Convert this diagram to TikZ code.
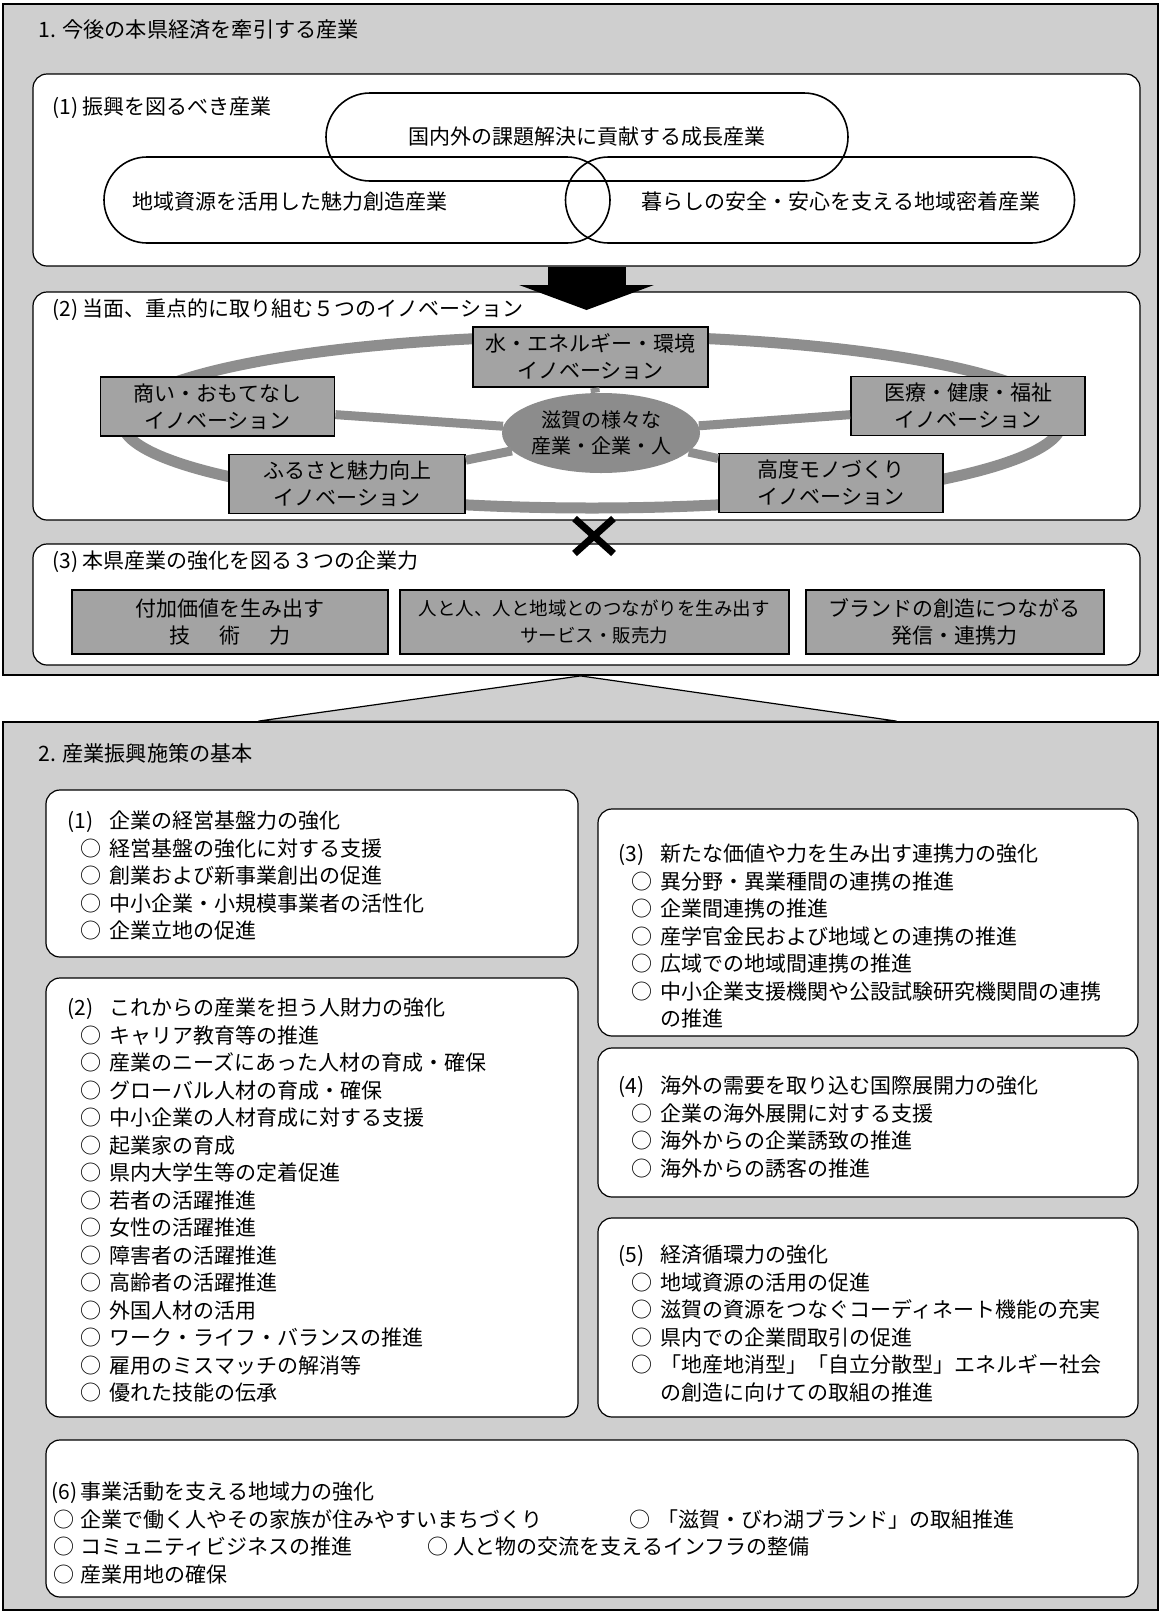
\documentclass[tikz,border=0pt]{standalone}
\usepackage{fontspec}
\setmainfont{Noto Sans CJK JP}
\usetikzlibrary{arrows.meta,positioning,shapes.geometric,shapes.misc}
\definecolor{screen}{HTML}{CFCFCF}
\definecolor{tone}{HTML}{A3A3A3}
\definecolor{ringgray}{HTML}{8E8E8E}
\definecolor{hubgray}{HTML}{8C8C8C}
\newcommand\hd[2][21pt]{\makebox[#1][l]{#2}}
\newcommand\bu[2][6.25pt]{\hspace*{#1}\makebox[#2][l]{○}}

\begin{document}
\begin{tikzpicture}[x=0.5pt,y=-0.5pt,font=\fontsize{10.5pt}{13.75pt}\selectfont,
  frame/.style={draw=black,line width=0.9pt,fill=screen,inner sep=0pt},
  panel/.style={draw=black,line width=0.6pt,fill=white,rounded corners=7pt,inner sep=0pt},
  ttl/.style={anchor=west,inner sep=0pt,font=\fontsize{10.6pt}{13pt}\selectfont},
  hdg/.style={anchor=west,inner sep=0pt},
  lst/.style={anchor=north west,align=left,inner sep=0pt},
  pill/.style={rounded rectangle,draw=black,line width=0.8pt,minimum width=254pt,minimum height=43pt,inner sep=0pt},
  innobox/.style={draw=black,line width=0.9pt,fill=tone,align=center,inner sep=0pt,minimum width=117pt,minimum height=29.5pt,font=\fontsize{10.5pt}{13.5pt}\selectfont},
  powbox/.style={innobox,minimum height=32pt},
  spoke/.style={draw=ringgray,line width=4.5pt},
  bigarr/.style={line width=39pt,-{Triangle[width=67pt,length=12.5pt]}}]

\useasboundingbox (0,0) rectangle (1161,1617);
\fill[white] (0,0) rectangle (1161,1617);

% two screened frames and the wedge between them
\node[frame,minimum width=577.5pt,minimum height=335.5pt] (sec1) at (580.5,339.5) {};
\node[frame,minimum width=577.5pt,minimum height=444pt] (sec2) at (580.5,1166) {};
\draw[fill=screen,line width=0.6pt] (sec1.south) -- ([xshift=-161pt]sec2.north) -- ([xshift=158pt]sec2.north) -- cycle;
\node[ttl] (t1) at (38,30) {1. 今後の本県経済を牽引する産業};
\node[ttl] (t2) at (38,753) {2. 産業振興施策の基本};

% (1) industries
\node[panel,minimum width=553.5pt,minimum height=96pt] (ind) at (586.5,170) {};
\node[hdg] (indhd) at (52,108) {(1) 振興を図るべき産業};
\node[pill,minimum width=261pt,minimum height=44pt] (growth) at (587,137) {国内外の課題解決に貢献する成長産業};
\node[pill,minimum width=253pt] (charm) at (357,200) {};
\node[pill,minimum width=254.5pt] (local) at (820,200) {};
\node[inner sep=0pt] (charmtx) at (290,202) {地域資源を活用した魅力創造産業};
\node[inner sep=0pt] (localtx) at (841,202) {暮らしの安全・安心を支える地域密着産業};

% (2) innovations
\node[panel,minimum width=553.5pt,minimum height=114pt] (inno) at (586.5,406) {};
\node[hdg] (innohd) at (52,310) {(2) 当面、重点的に取り組む５つのイノベーション};
\coordinate (arrtip) at (586.5,310);
\draw[bigarr] (ind.south) -- (arrtip);
\draw[ringgray,line width=5.5pt] (592,422) ellipse [x radius=235pt,y radius=43pt];
\node[ellipse,fill=hubgray,inner sep=0pt,minimum width=98pt,minimum height=40pt,align=center,font=\fontsize{10pt}{13pt}\selectfont] (hub) at (601,433) {滋賀の様々な\\産業・企業・人};
\node[innobox,minimum width=117.5pt,minimum height=30pt] (mizu) at (590.5,357) {水・エネルギー・環境\\イノベーション};
\node[innobox] (akinai) at (217.5,406.5) {商い・おもてなし\\イノベーション};
\node[innobox] (iryo) at (968,406) {医療・健康・福祉\\イノベーション};
\node[innobox,minimum width=118pt] (furusato) at (347,484) {ふるさと魅力向上\\イノベーション};
\node[innobox,minimum width=112pt] (kodo) at (831,483) {高度モノづくり\\イノベーション};
\foreach \b in {mizu,akinai,iryo,furusato,kodo}
  \draw[spoke] (hub) -- (\b);

% (3) three strengths
\node[panel,minimum width=553.5pt,minimum height=60.5pt] (kigyo) at (586.5,604.5) {};
\node[cross out,draw=black,line width=3.5pt,minimum width=16pt,minimum height=14pt,inner sep=0pt] (xmark) at (594,536) {};
\node[hdg] (kigyohd) at (52,562) {(3) 本県産業の強化を図る３つの企業力};
\node[powbox,minimum width=158pt] (gijutsu) at (230,622) {付加価値を生み出す\\技\hspace*{1.4em}術\hspace*{1.4em}力};
\node[powbox,minimum width=194.5pt,right=5pt of gijutsu,font=\fontsize{9.25pt}{13.5pt}\selectfont] (hanbai) {人と人、人と地域とのつながりを生み出す\\サービス・販売力};
\node[powbox,minimum width=149pt,right=7.5pt of hanbai] (hasshin) {ブランドの創造につながる\\発信・連携力};

% policy boxes
\node[panel,minimum width=266pt,minimum height=83.5pt] (kiban) at (312,873.5) {};
\node[panel,minimum width=266pt,minimum height=219.5pt] (jinzai) at (312,1197.5) {};
\node[panel,minimum width=270pt,minimum height=113.5pt] (renkei) at (868,922.5) {};
\node[panel,minimum width=270pt,minimum height=74.5pt] (kaigai) at (868,1122.5) {};
\node[panel,minimum width=270pt,minimum height=99.5pt] (junkan) at (868,1317.5) {};
\node[panel,minimum width=546pt,minimum height=78.5pt] (chiiki) at (592,1518.5) {};

\node[lst] (kibantx) at ([shift={(22,21)}]kiban.north west) {\hd{(1)}企業の経営基盤力の強化\\
  \bu{14.75pt}経営基盤の強化に対する支援\\
  \bu{14.75pt}創業および新事業創出の促進\\
  \bu{14.75pt}中小企業・小規模事業者の活性化\\
  \bu{14.75pt}企業立地の促進};
\node[lst] (jinzaitx) at ([shift={(22,20)}]jinzai.north west) {\hd{(2)}これからの産業を担う人財力の強化\\
  \bu{14.75pt}キャリア教育等の推進\\
  \bu{14.75pt}産業のニーズにあった人材の育成・確保\\
  \bu{14.75pt}グローバル人材の育成・確保\\
  \bu{14.75pt}中小企業の人材育成に対する支援\\
  \bu{14.75pt}起業家の育成\\
  \bu{14.75pt}県内大学生等の定着促進\\
  \bu{14.75pt}若者の活躍推進\\
  \bu{14.75pt}女性の活躍推進\\
  \bu{14.75pt}障害者の活躍推進\\
  \bu{14.75pt}高齢者の活躍推進\\
  \bu{14.75pt}外国人材の活用\\
  \bu{14.75pt}ワーク・ライフ・バランスの推進\\
  \bu{14.75pt}雇用のミスマッチの解消等\\
  \bu{14.75pt}優れた技能の伝承};
\node[lst] (renkeitx) at ([shift={(21,35)}]renkei.north west) {\hd{(3)}新たな価値や力を生み出す連携力の強化\\
  \bu{14.75pt}異分野・異業種間の連携の推進\\
  \bu{14.75pt}企業間連携の推進\\
  \bu{14.75pt}産学官金民および地域との連携の推進\\
  \bu{14.75pt}広域での地域間連携の推進\\
  \bu{14.75pt}中小企業支援機関や公設試験研究機関間の連携\\
  \hspace*{21pt}の推進};
\node[lst] (kaigaitx) at ([shift={(21,28)}]kaigai.north west) {\hd{(4)}海外の需要を取り込む国際展開力の強化\\
  \bu{14.75pt}企業の海外展開に対する支援\\
  \bu{14.75pt}海外からの企業誘致の推進\\
  \bu{14.75pt}海外からの誘客の推進};
\node[lst] (junkantx) at ([shift={(21,27)}]junkan.north west) {\hd{(5)}経済循環力の強化\\
  \bu{14.75pt}地域資源の活用の促進\\
  \bu{14.75pt}滋賀の資源をつなぐコーディネート機能の充実\\
  \bu{14.75pt}県内での企業間取引の促進\\
  \bu{14.75pt}「地産地消型」「自立分散型」エネルギー社会\\
  \hspace*{21pt}の創造に向けての取組の推進};
\node[lst] (chiikitx) at ([shift={(6,42)}]chiiki.north west) {\hd[14.5pt]{(6)}事業活動を支える地域力の強化\\
  \makebox[289pt][l]{\bu[1pt]{13.5pt}企業で働く人やその家族が住みやすいまちづくり}\bu[0pt]{14pt}「滋賀・びわ湖ブランド」の取組推進\\
  \makebox[188pt][l]{\bu[1pt]{13.5pt}コミュニティビジネスの推進}\bu[0pt]{13pt}人と物の交流を支えるインフラの整備\\
  \bu[1pt]{13.5pt}産業用地の確保};
\end{tikzpicture}
\end{document}
